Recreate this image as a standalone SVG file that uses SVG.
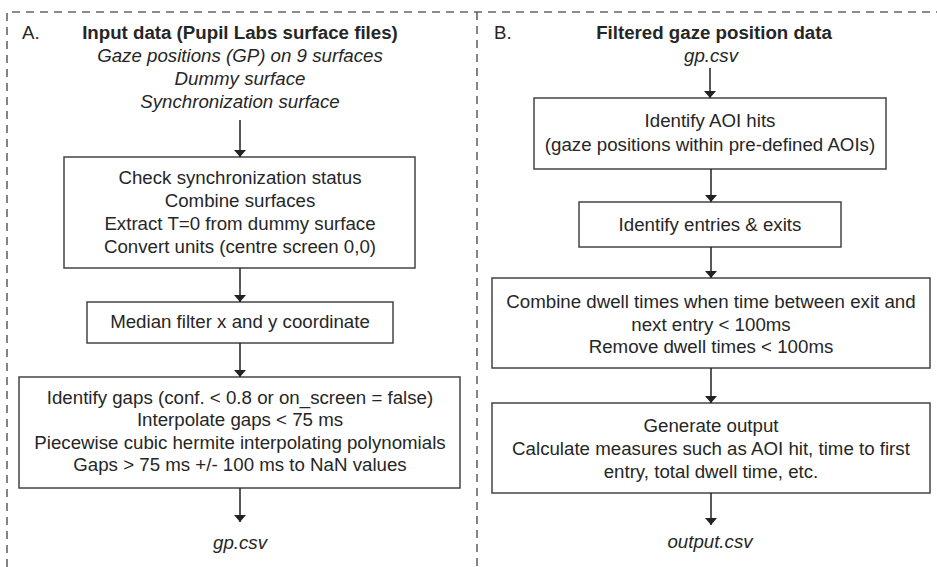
<svg xmlns="http://www.w3.org/2000/svg" width="937" height="567" viewBox="0 0 937 567">
<style>
text{font-family:"Liberation Sans",Arial,sans-serif;font-size:18.7px;fill:#262626;text-anchor:middle}
.b{font-weight:bold}
.i{font-style:italic}
.l{text-anchor:start}
.box{fill:#fff;stroke:#444;stroke-width:1.5}
.dash{stroke:#666;stroke-width:1.6;stroke-dasharray:8 6;fill:none}
.c{stroke:#222;stroke-width:1.5;fill:none;marker-end:url(#ah)}
</style>
<defs>
<marker id="ah" viewBox="0 0 7 12" refX="7" refY="6" markerWidth="7" markerHeight="12" markerUnits="userSpaceOnUse" orient="auto">
<path d="M0,0 L7,6 L0,12 Z" fill="#222"/>
</marker>
</defs>
<g id="frame">
<path class="dash" d="M7,567 V12 H937"/>
<path class="dash" d="M477,12 V567"/>
</g>
<g id="panelA-header">
<text class="l" x="22" y="39">A.</text>
<text class="b" x="240" y="39">Input data (Pupil Labs surface files)</text>
<text class="i" x="240" y="62">Gaze positions (GP) on 9 surfaces</text>
<text class="i" x="240" y="85">Dummy surface</text>
<text class="i" x="240" y="108">Synchronization surface</text>
</g>
<g id="A1">
<rect class="box" x="64" y="157" width="351" height="111"/>
<text x="240" y="184">Check synchronization status</text>
<text x="240" y="207">Combine surfaces</text>
<text x="240" y="230">Extract T=0 from dummy surface</text>
<text x="240" y="253">Convert units (centre screen 0,0)</text>
</g>
<g id="A2">
<rect class="box" x="87" y="302" width="306" height="41"/>
<text x="240" y="328">Median filter x and y coordinate</text>
</g>
<g id="A3">
<rect class="box" x="19" y="377" width="441" height="111"/>
<text x="240" y="404">Identify gaps (conf. &lt; 0.8 or on_screen = false)</text>
<text x="240" y="426">Interpolate gaps &lt; 75 ms</text>
<text x="240" y="449">Piecewise cubic hermite interpolating polynomials</text>
<text x="240" y="471">Gaps &gt; 75 ms +/- 100 ms to NaN values</text>
</g>
<g id="A-out">
<text class="i" x="240" y="549">gp.csv</text>
</g>
<g id="panelB-header">
<text class="l" x="494" y="39">B.</text>
<text class="b" x="714" y="39">Filtered gaze position data</text>
<text class="i" x="711" y="62">gp.csv</text>
</g>
<g id="B1">
<rect class="box" x="534" y="98" width="352" height="71"/>
<text x="710" y="127">Identify AOI hits</text>
<text x="710" y="151">(gaze positions within pre-defined AOIs)</text>
</g>
<g id="B2">
<rect class="box" x="579" y="202" width="262" height="45"/>
<text x="710" y="231">Identify entries &amp; exits</text>
</g>
<g id="B3">
<rect class="box" x="492" y="278" width="438" height="90"/>
<text x="711" y="308">Combine dwell times when time between exit and</text>
<text x="711" y="331">next entry &lt; 100ms</text>
<text x="711" y="353">Remove dwell times &lt; 100ms</text>
</g>
<g id="B4">
<rect class="box" x="492" y="403" width="438" height="90"/>
<text x="711" y="432">Generate output</text>
<text x="711" y="455">Calculate measures such as AOI hit, time to first</text>
<text x="711" y="478">entry, total dwell time, etc.</text>
</g>
<g id="B-out">
<text class="i" x="710" y="548">output.csv</text>
</g>
<g id="connectors">
<path class="c" d="M240,120 V157"/>
<path class="c" d="M240,268 V302"/>
<path class="c" d="M240,343 V377"/>
<path class="c" d="M240,488 V522"/>
<path class="c" d="M710,68 V98"/>
<path class="c" d="M711,169 V202"/>
<path class="c" d="M711,247 V278"/>
<path class="c" d="M711,368 V403"/>
<path class="c" d="M711,493 V525"/>
</g>
</svg>
